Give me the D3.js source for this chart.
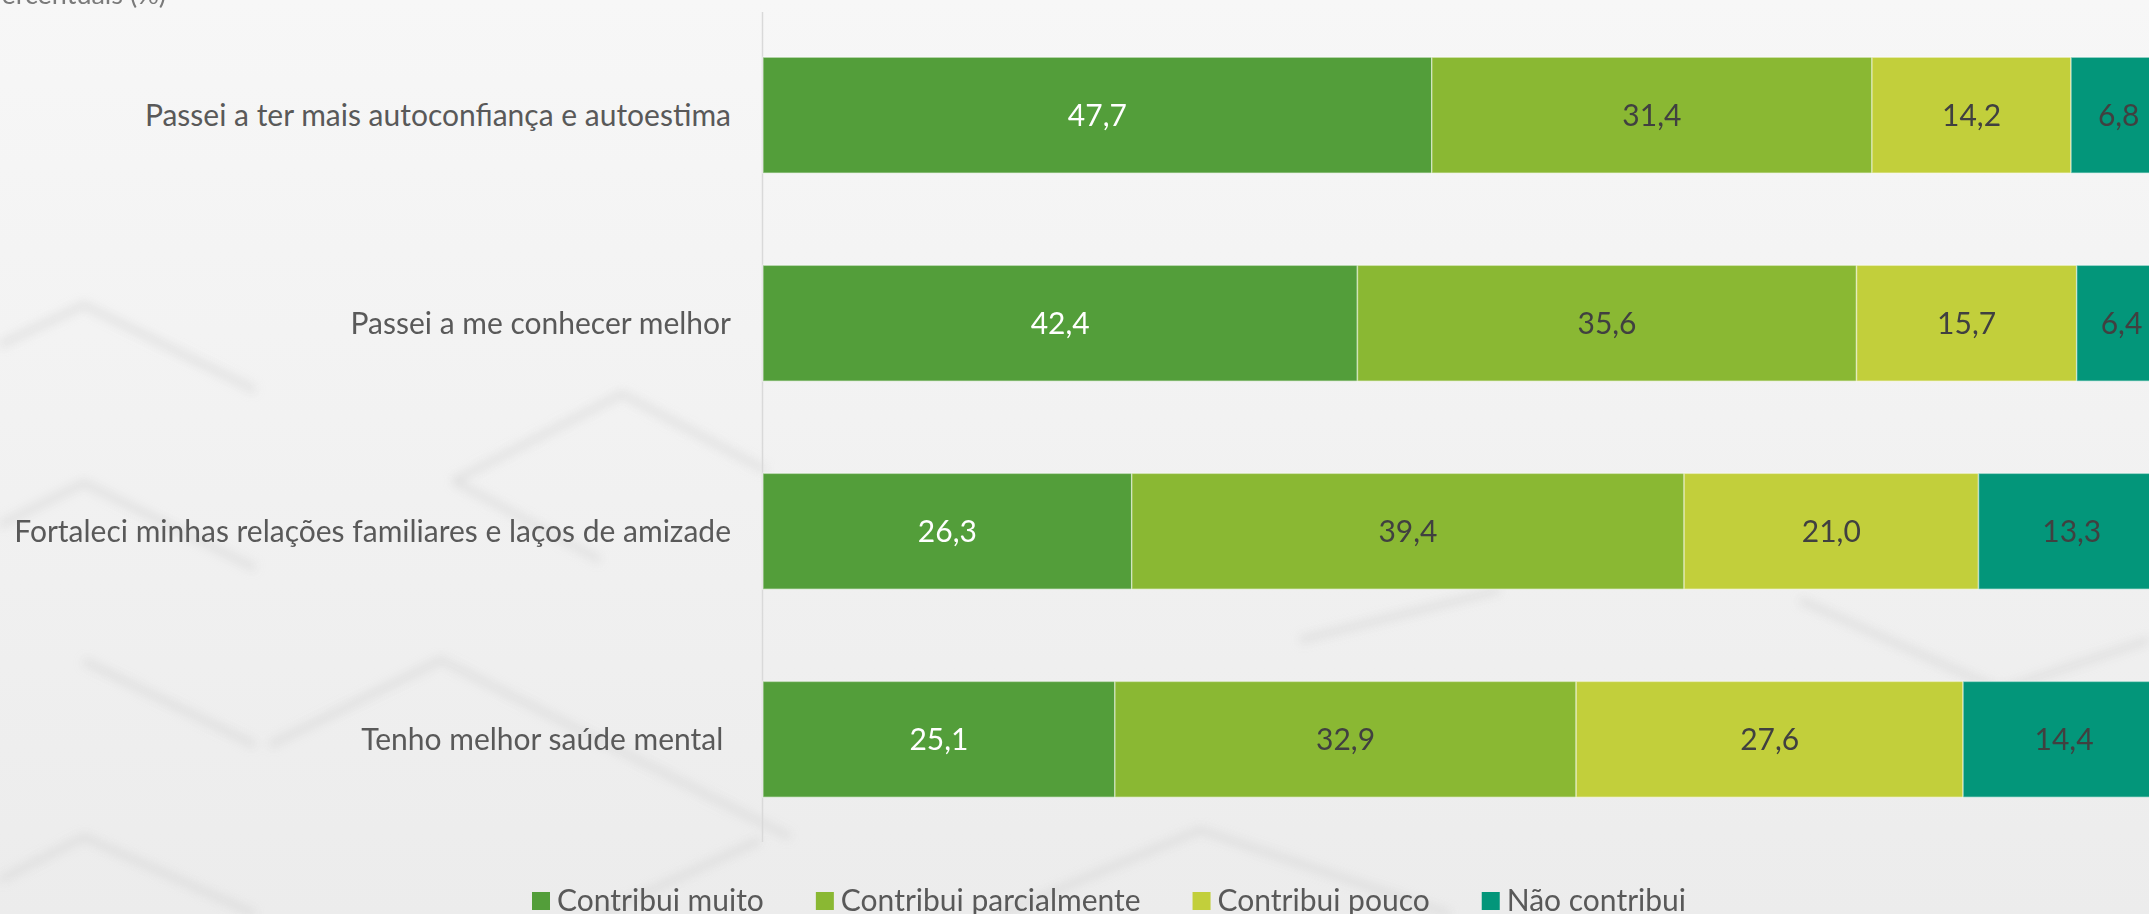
<!DOCTYPE html>
<html>
<head>
<meta charset="utf-8">
<script src="https://cdn.jsdelivr.net/npm/d3@7"></script>
<style>
  html, body { margin: 0; padding: 0; background: #f5f5f5; overflow: hidden; }
  svg { display: block; font-family: Lato, "Open Sans", sans-serif; }
  text { white-space: pre; }
</style>
</head>
<body>
<svg id="chart" width="2149" height="914"></svg>
<script>
// ---- data ----
const categories = [
  "Passei a ter mais autoconfiança e autoestima",
  "Passei a me conhecer melhor",
  "Fortaleci minhas relações familiares e laços de amizade",
  "Tenho melhor saúde mental "
];
const seriesNames = ["Contribui muito", "Contribui parcialmente", "Contribui pouco", "Não contribui"];
const contribuiMuito = [47.7, 42.4, 26.3, 25.1];
const contribuiParcialmente = [31.4, 35.6, 39.4, 32.9];
const contribuiPouco = [14.2, 15.7, 21.0, 27.6];
const naoContribui = [6.8, 6.4, 13.3, 14.4];
const unitLabel = "Percentuais (%)";

const seriesValues = [contribuiMuito, contribuiParcialmente, contribuiPouco, naoContribui];
const colors = ["#539e3a", "#8ab833", "#c2cf3b", "#03967a"];
const labelColors = ["#ffffff", "#404040", "#404040", "#404040"];

const W = 2149, H = 914;
const FS = 30;
const svg = d3.select("#chart");

// ---- background texture (soft diamond ridges) ----
const defs = svg.append("defs");
const blur = defs.append("filter").attr("id", "blur").attr("x", "-20%").attr("y", "-20%").attr("width", "140%").attr("height", "140%");
blur.append("feGaussianBlur").attr("stdDeviation", 5);
const lg = defs.append("linearGradient").attr("id", "bg").attr("x1", 0).attr("y1", 0).attr("x2", 0).attr("y2", 1);
lg.append("stop").attr("offset", "0%").attr("stop-color", "#f7f7f7");
lg.append("stop").attr("offset", "100%").attr("stop-color", "#ececec");
svg.append("rect").attr("width", W).attr("height", H).attr("fill", "url(#bg)");
const tex = svg.append("g").attr("filter", "url(#blur)").attr("fill", "none");
const ridges = [
  [[0, 345], [84, 305], [255, 390]],
  [[0, 525], [84, 483], [255, 568]],
  [[454, 481], [622, 394], [765, 470]],
  [[454, 481], [600, 560]],
  [[270, 745], [441, 660], [790, 837]],
  [[84, 661], [255, 745]],
  [[0, 880], [84, 837], [255, 914]],
  [[600, 914], [760, 840]],
  [[1000, 914], [1200, 830], [1450, 914]],
  [[1800, 600], [2000, 690], [2149, 640]],
  [[1300, 640], [1500, 590]]
];
ridges.forEach(s => {
  tex.append("path").attr("d", d3.line()(s)).attr("stroke", "#cfcfcf").attr("stroke-width", 7).attr("opacity", 0.45);
});

// ---- scales ----
const x = d3.scaleLinear().domain([0, 100]).range([763, 2165]);
const y = d3.scaleBand().domain(categories).range([12.5, 842]).paddingInner(0.443).paddingOuter(0.215);

// axis line
svg.append("line").attr("x1", x(0) - 0.5).attr("x2", x(0) - 0.5).attr("y1", 12).attr("y2", 842)
  .attr("stroke", "#d9d9d9").attr("stroke-width", 1.5);

// stacked data
const rows = categories.map((c, i) => {
  const r = { cat: c };
  seriesNames.forEach((s, j) => r[s] = seriesValues[j][i]);
  return r;
});
const stacked = d3.stack().keys(seriesNames)(rows);

const gBars = svg.append("g");
stacked.forEach((layer, j) => {
  const g = gBars.append("g");
  g.selectAll("rect").data(layer).enter().append("rect")
    .attr("x", d => x(d[0]))
    .attr("width", d => x(d[1]) - x(d[0]))
    .attr("y", d => y(d.data.cat))
    .attr("height", y.bandwidth())
    .attr("fill", colors[j])
    .attr("stroke", "#ffffff").attr("stroke-opacity", 0.45).attr("stroke-width", 1.5);
  g.selectAll("text").data(layer).enter().append("text")
    .attr("x", d => (x(d[0]) + x(d[1])) / 2)
    .attr("y", d => y(d.data.cat) + y.bandwidth() / 2 + 10.8)
    .attr("text-anchor", "middle")
    .attr("font-size", FS)
    .attr("fill", labelColors[j])
    .text(d => d3.format(".1f")(d[1] - d[0]).replace(".", ","));
});

// category labels
const yAxis = d3.axisLeft(y).tickSize(0).tickPadding(0);
const ga = svg.append("g").attr("transform", "translate(731,0)").call(yAxis);
ga.select(".domain").remove();
ga.selectAll("text")
  .attr("font-family", "Lato, 'Open Sans', sans-serif")
  .attr("font-size", FS)
  .attr("fill", "#595959")
  .attr("dy", null)
  .attr("y", 10.8)
  .style("white-space", "pre");

// unit label (partially cut at top)
svg.append("text").attr("x", 166).attr("y", 4).attr("text-anchor", "end")
  .attr("font-size", 27).attr("fill", "#7a7a7a").text(unitLabel);

// legend
const legend = svg.append("g");
let lx = 532;
seriesNames.forEach((s, j) => {
  legend.append("rect").attr("x", lx).attr("y", 892).attr("width", 18).attr("height", 18).attr("fill", colors[j]);
  const t = legend.append("text").attr("x", lx + 25).attr("y", 910.5)
    .attr("font-size", FS).attr("fill", "#595959").text(s);
  const w = t.node().getComputedTextLength();
  lx = lx + 25 + w + 52;
});
</script>
</body>
</html>
